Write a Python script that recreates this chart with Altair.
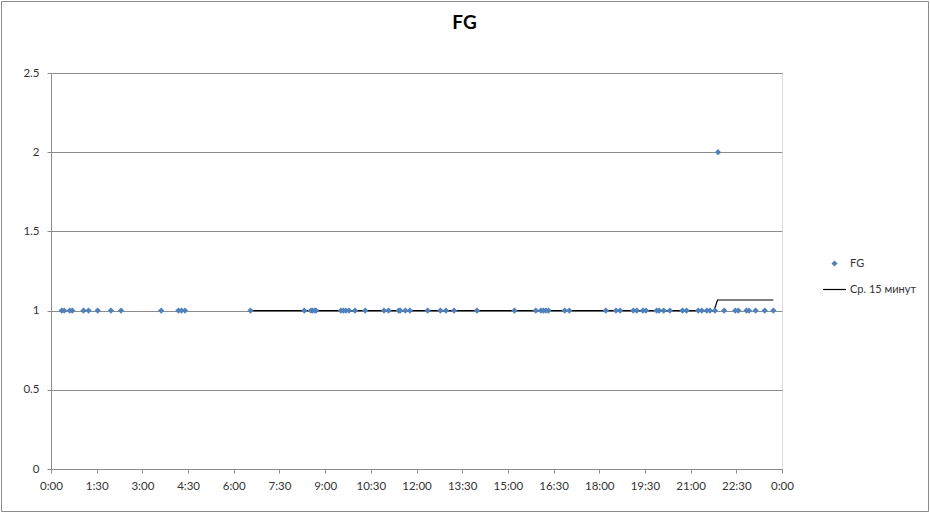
import altair as alt
import pandas as pd

# FG observations (time of day, value)
fg_times = [
    "0:21", "0:26", "0:37", "0:42", "1:04", "1:14", "1:32", "1:58", "2:18", "3:37",
    "4:11", "4:17", "4:24", "6:33", "8:19", "8:32", "8:35", "8:40", "8:42", "9:31",
    "9:36", "9:41", "9:47", "9:59", "10:19", "10:56", "11:05", "11:25", "11:28", "11:38",
    "11:47", "12:22", "12:47", "12:58", "13:14", "13:59", "15:13", "15:55", "16:05", "16:10",
    "16:15", "16:20", "16:52", "17:01", "18:13", "18:33", "18:41", "19:07", "19:14", "19:26",
    "19:32", "19:53", "19:58", "20:07", "20:19", "20:44", "20:52", "21:15", "21:22", "21:32",
    "21:38", "21:48", "21:54", "22:06", "22:28", "22:34", "22:50", "22:55", "23:08", "23:26",
    "23:43",
]
fg_values = [1] * 62 + [2] + [1] * 8

# 15-minute average line
avg_times = ["6:33", "21:46", "21:53", "23:43"]
avg_values = [1, 1, 1.067, 1.067]

x_ticks = [i * 1.5 for i in range(17)]
y_ticks = [0, 0.5, 1, 1.5, 2, 2.5]


def to_hours(t):
    h, m = t.split(":")
    return int(h) + int(m) / 60


fg_df = pd.DataFrame({"t": [to_hours(t) for t in fg_times], "v": fg_values, "s": "FG"})
avg_df = pd.DataFrame({"t": [to_hours(t) for t in avg_times], "v": avg_values, "s": "Ср. 15 минут"})

FONT = "Lato"
GRID = "#8c8c8c"

x_enc = alt.X(
    "t:Q",
    scale=alt.Scale(domain=[0, 24], nice=False, zero=False),
    axis=alt.Axis(
        values=x_ticks, title=None, grid=False,
        labelExpr="(floor(datum.value) % 24) + ':' + ((datum.value % 1) == 0.5 ? '30' : '00')",
        tickSize=4, labelPadding=7, domainColor=GRID, tickColor=GRID,
        labelFont=FONT, labelFontSize=11.5, labelColor="#333333", labelFlush=False,
    ),
)
y_enc = alt.Y(
    "v:Q",
    scale=alt.Scale(domain=[0, 2.5], nice=False),
    axis=alt.Axis(
        values=y_ticks, title=None, grid=True, gridColor=GRID, gridWidth=1, format="~g",
        tickSize=4, labelPadding=8, domainColor=GRID, tickColor=GRID,
        labelFont=FONT, labelFontSize=11.5, labelColor="#333333",
    ),
)

line = alt.Chart(avg_df).mark_line(strokeWidth=1.2).encode(
    x=x_enc,
    y=y_enc,
    stroke=alt.Stroke(
        "s:N",
        scale=alt.Scale(domain=["Ср. 15 минут"], range=["#000000"]),
        legend=alt.Legend(
            title=None, orient="none", legendX=771, legendY=204, symbolType="stroke",
            symbolSize=529, symbolStrokeWidth=1.2, labelOffset=3, padding=0,
            labelFont=FONT, labelFontSize=11, labelColor="#333333",
        ),
    ),
)

points = alt.Chart(fg_df).mark_point(filled=True, shape="diamond", size=38, opacity=1).encode(
    x=x_enc,
    y=y_enc,
    fill=alt.Fill(
        "s:N",
        scale=alt.Scale(domain=["FG"], range=["#4f81bd"]),
        legend=alt.Legend(
            title=None, orient="none", legendX=778, legendY=185, symbolType="diamond",
            symbolSize=38, labelOffset=10, padding=0,
            labelFont=FONT, labelFontSize=11, labelColor="#333333",
        ),
    ),
)

frame = alt.Chart(pd.DataFrame({"k": [0]})).mark_rect(
    fill=None, stroke="#8c8c8c", strokeWidth=1
).encode(
    x=alt.value(-49.5), x2=alt.value(877.5), y=alt.value(-71.5), y2=alt.value(438.5)
)

chart = alt.layer(frame, line, points).resolve_legend(fill="independent", stroke="independent").properties(
    width=731,
    height=396,
    autosize=alt.AutoSizeParams(type="none"),
    padding={"left": 51, "top": 73, "right": 148, "bottom": 45},
    title=alt.TitleParams("FG", font=FONT, fontSize=19, fontWeight="bold", color="#000000",
                          anchor="middle", dx=48, offset=0, dy=32),
).configure_view(stroke=None).configure(background="white")

chart.save("out.html", embed_options={"renderer": "svg", "actions": False})
